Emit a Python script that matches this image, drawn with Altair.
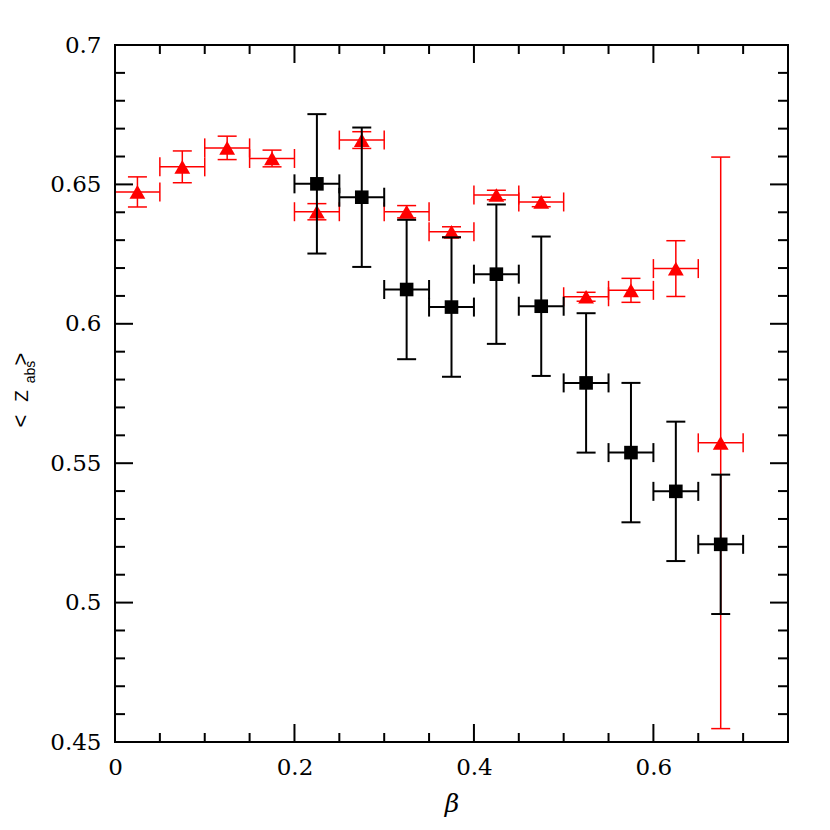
import altair as alt
import pandas as pd

# ---- data ----
red_x = [0.025, 0.075, 0.125, 0.175, 0.225, 0.275, 0.325, 0.375, 0.425, 0.475, 0.525, 0.575, 0.625, 0.675]
red_y = [0.6473, 0.6563, 0.6631, 0.6593, 0.6402, 0.6659, 0.6402, 0.6330, 0.6462, 0.6437, 0.6097, 0.6120, 0.6198, 0.5573]
red_err = [0.0054, 0.0057, 0.0042, 0.0030, 0.0029, 0.0030, 0.0022, 0.0018, 0.0017, 0.0017, 0.0016, 0.0043, 0.0100, 0.1025]

blk_x = [0.225, 0.275, 0.325, 0.375, 0.425, 0.475, 0.525, 0.575, 0.625, 0.675]
blk_y = [0.6502, 0.6454, 0.6123, 0.6060, 0.6178, 0.6063, 0.5788, 0.5538, 0.5399, 0.5209]
blk_err = [0.025, 0.025, 0.025, 0.025, 0.025, 0.025, 0.025, 0.025, 0.025, 0.025]

half_bin = 0.025

x_major = [0.2, 0.4, 0.6]
x_minor = [0.05, 0.1, 0.15, 0.25, 0.3, 0.35, 0.45, 0.5, 0.55, 0.65, 0.7]
y_major = [0.5, 0.55, 0.6, 0.65]
y_minor = [0.46, 0.47, 0.48, 0.49, 0.51, 0.52, 0.53, 0.54, 0.56, 0.57, 0.58, 0.59,
           0.61, 0.62, 0.63, 0.64, 0.66, 0.67, 0.68, 0.69]
x_labels = [0, 0.2, 0.4, 0.6]
y_labels = [0.45, 0.5, 0.55, 0.6, 0.65, 0.7]

W, H = 673, 697
FONT = "DejaVu Serif"

xs = alt.Scale(domain=[0, 0.75], nice=False, zero=False)
ys = alt.Scale(domain=[0.45, 0.7], nice=False, zero=False)
xa = alt.Axis(values=x_labels, format="~g", ticks=False, tickSize=0, domain=False, grid=False,
              labelFont=FONT, labelFontSize=23, labelPadding=14, labelFlush=False, labelColor="black",
              title="β", titleFont=FONT, titleFontStyle="italic", titleFontWeight="normal",
              titleFontSize=25, titlePadding=12, titleColor="black")
ya = alt.Axis(values=y_labels, format="~g", ticks=False, tickSize=0, domain=False, grid=False,
              labelFont=FONT, labelFontSize=23, labelPadding=14, labelFlush=False, labelColor="black",
              title="")


def X(f):
    return alt.X(f"{f}:Q", scale=xs, axis=xa)


def Y(f):
    return alt.Y(f"{f}:Q", scale=ys, axis=ya)


def series(xv, yv, ev, color, sw, shape, size):
    df = pd.DataFrame({"x": xv, "y": yv, "e": ev})
    df["xlo"] = df["x"] - half_bin
    df["xhi"] = df["x"] + half_bin
    df["ylo"] = df["y"] - df["e"]
    df["yhi"] = df["y"] + df["e"]
    base = alt.Chart(df)
    hbar = base.mark_rule(color=color, strokeWidth=sw).encode(x=X("xlo"), x2="xhi", y=Y("y"))
    vbar = base.mark_rule(color=color, strokeWidth=sw).encode(x=X("x"), y=Y("ylo"), y2="yhi")
    hcap1 = base.mark_rule(color=color, strokeWidth=sw, yOffset=-9.5, y2Offset=9.5).encode(
        x=X("xlo"), y=Y("y"), y2="y")
    hcap2 = base.mark_rule(color=color, strokeWidth=sw, yOffset=-9.5, y2Offset=9.5).encode(
        x=X("xhi"), y=Y("y"), y2="y")
    vcap1 = base.mark_rule(color=color, strokeWidth=sw, xOffset=-9.5, x2Offset=9.5).encode(
        x=X("x"), x2="x", y=Y("ylo"))
    vcap2 = base.mark_rule(color=color, strokeWidth=sw, xOffset=-9.5, x2Offset=9.5).encode(
        x=X("x"), x2="x", y=Y("yhi"))
    pts = base.mark_point(shape=shape, filled=True, size=size, color=color, opacity=1).encode(
        x=X("x"), y=Y("y"))
    return [hbar, vbar, hcap1, hcap2, vcap1, vcap2, pts]


layers = []
layers += series(red_x, red_y, red_err, "#ff0000", 1.5, "triangle-up", 250)
layers += series(blk_x, blk_y, blk_err, "black", 2, "square", 185)


# inward ticks on all four sides
def xticks(vals, length):
    d = alt.Chart(pd.DataFrame({"tx": vals}))
    bot = d.mark_rule(color="black", strokeWidth=2).encode(
        x=X("tx"), y=alt.value(H), y2=alt.value(H - length))
    top = d.mark_rule(color="black", strokeWidth=2).encode(
        x=X("tx"), y=alt.value(0), y2=alt.value(length))
    return [bot, top]


def yticks(vals, length):
    d = alt.Chart(pd.DataFrame({"ty": vals}))
    left = d.mark_rule(color="black", strokeWidth=2).encode(
        y=Y("ty"), x=alt.value(0), x2=alt.value(length))
    right = d.mark_rule(color="black", strokeWidth=2).encode(
        y=Y("ty"), x=alt.value(W), x2=alt.value(W - length))
    return [left, right]


layers += xticks(x_major, 18) + xticks(x_minor, 9)
layers += yticks(y_major, 18) + yticks(y_minor, 10)

# frame
one = pd.DataFrame({"a": [0]})
fr = alt.Chart(one)
layers.append(fr.mark_rule(color="black", strokeWidth=2).encode(x=alt.value(-1), x2=alt.value(W + 1), y=alt.value(0)))
layers.append(fr.mark_rule(color="black", strokeWidth=2).encode(x=alt.value(-1), x2=alt.value(W + 1), y=alt.value(H)))
layers.append(fr.mark_rule(color="black", strokeWidth=2).encode(y=alt.value(-1), y2=alt.value(H + 1), x=alt.value(0)))
layers.append(fr.mark_rule(color="black", strokeWidth=2).encode(y=alt.value(-1), y2=alt.value(H + 1), x=alt.value(W)))

# y-axis title <Z_abs> built from rotated text pieces
TF = "Liberation Sans"
layers.append(alt.Chart(one).mark_text(text="<", angle=270, font=TF, fontSize=22, baseline="middle",
                                       align="center", color="black").encode(x=alt.value(-94), y=alt.value(376)))
layers.append(alt.Chart(one).mark_text(text="Z", angle=270, font=TF, fontSize=19, baseline="alphabetic",
                                       align="center", color="black").encode(x=alt.value(-87), y=alt.value(351)))
layers.append(alt.Chart(one).mark_text(text="abs", angle=270, font=TF, fontSize=14, baseline="alphabetic",
                                       align="center", color="black").encode(x=alt.value(-80), y=alt.value(327)))
layers.append(alt.Chart(one).mark_text(text=">", angle=270, font=TF, fontSize=22, baseline="middle",
                                       align="center", color="black").encode(x=alt.value(-94), y=alt.value(314)))

chart = alt.layer(*layers).properties(
    width=W, height=H,
    autosize=alt.AutoSizeParams(type="none"),
    padding={"left": 107, "top": 37, "right": 30, "bottom": 80},
).configure(background="white").configure_view(stroke=None)

chart.save("out.html", embed_options={"renderer": "svg", "actions": False})
